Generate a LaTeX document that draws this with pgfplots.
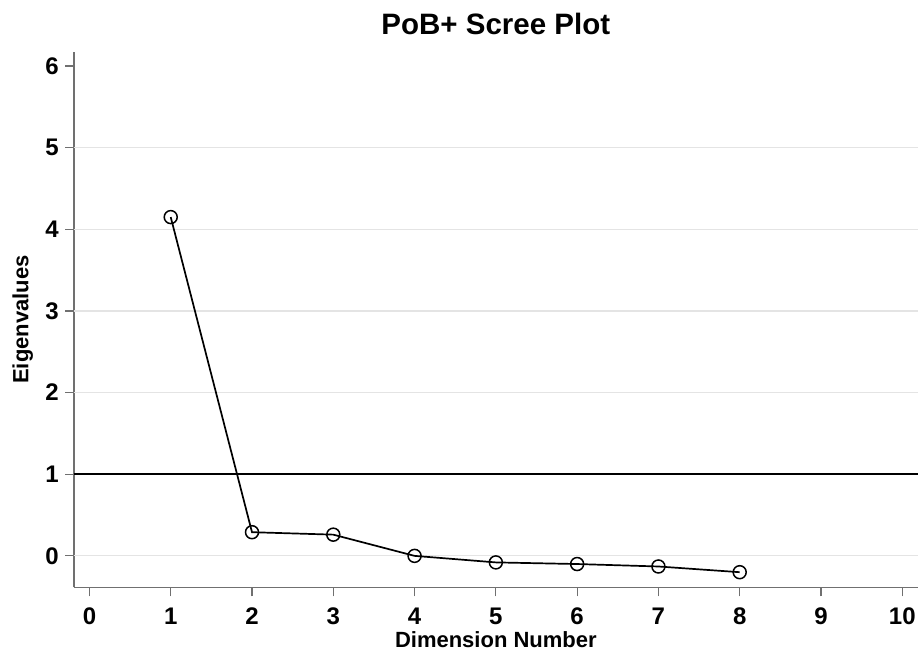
\documentclass[border=0pt]{standalone}
\usepackage{fontspec}
\setmainfont{Liberation Sans}
\usepackage{pgfplots}
\pgfplotsset{compat=1.18}
\definecolor{axgray}{HTML}{707070}
\definecolor{gridgray}{HTML}{E4E4E4}
\begin{document}
\begin{tikzpicture}
\begin{axis}[
  scale only axis,
  width=843.7pt, height=535.6pt,
  xmin=-0.19, xmax=10.19,
  ymin=-0.385, ymax=6.176,
  axis x line*=bottom, axis y line*=left,
  axis line style={axgray, line width=1.5pt},
  xtick={0,...,10}, ytick={0,...,6},
  tick align=outside,
  major tick length=9pt,
  tick style={axgray, line width=1.2pt},
  extra y ticks={0,2,3,4,5},
  extra y tick labels={},
  extra y tick style={grid=major, major tick length=0pt},
  major grid style={gridgray, line width=1.2pt},
  /pgf/number format/assume math mode=true,
  tick label style={font=\fontsize{24}{28}\selectfont\bfseries},
  xticklabel style={anchor=base, yshift=-28pt},
  yticklabel style={anchor=east, inner sep=0pt, xshift=-6pt},
  title={PoB+ Scree Plot},
  title style={font=\fontsize{29.5}{34}\selectfont\bfseries, at={(axis description cs:0.5,1.02)}, anchor=base, inner sep=0pt},
  xlabel={Dimension Number},
  xlabel style={font=\fontsize{22}{26}\selectfont\bfseries, at={(axis description cs:0.5,-0.1133)}, anchor=base, inner sep=0pt},
  ylabel={Eigenvalues},
  ylabel style={font=\fontsize{22}{26}\selectfont\bfseries, at={(axis description cs:-0.0482,0.5)}, anchor=south, inner sep=0pt},
  clip=false,
]
\addplot[black, line width=1.8pt, forget plot] coordinates {(-0.19,1) (10.19,1)};
\addplot[black, line width=1.7pt, mark=o, mark size=6.5pt, mark options={line width=1.5pt}] coordinates {
(1,4.15) (2,0.29) (3,0.26) (4,0.0) (5,-0.08) (6,-0.10) (7,-0.13) (8,-0.20)
};
\end{axis}
\pgfresetboundingbox
\path (current axis.south west) ++(-74pt,-63.7pt) coordinate (bbA);
\path (current axis.north east) ++(3.3pt,51.7pt) coordinate (bbB);
\path (bbA) rectangle (bbB);
\end{tikzpicture}
\end{document}
